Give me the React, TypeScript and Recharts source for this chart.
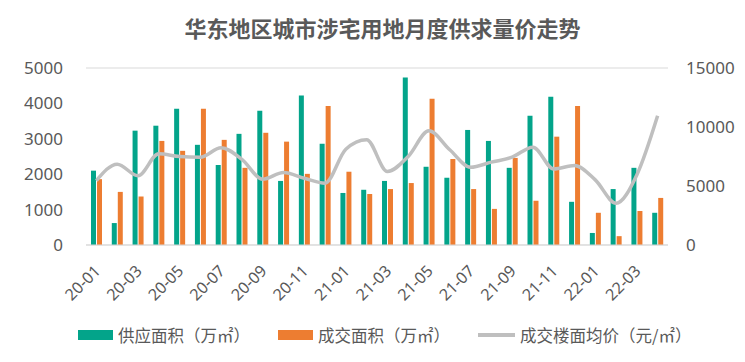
import React from 'react';
import { ComposedChart, Bar, Line, XAxis, YAxis, CartesianGrid } from 'recharts';

const months = [
  '20-01', '20-02', '20-03', '20-04', '20-05', '20-06', '20-07', '20-08', '20-09', '20-10',
  '20-11', '20-12', '21-01', '21-02', '21-03', '21-04', '21-05', '21-06', '21-07', '21-08',
  '21-09', '21-10', '21-11', '21-12', '22-01', '22-02', '22-03', '22-04',
];

const supply = [
  2100, 620, 3230, 3370, 3850, 2830, 2260, 3140, 3790, 1810,
  4220, 2860, 1470, 1560, 1810, 4730, 2210, 1900, 3250, 2940,
  2180, 3650, 4190, 1220, 340, 1580, 2180, 910,
];

const deals = [
  1860, 1500, 1370, 2940, 2660, 3850, 2970, 2180, 3170, 2920,
  2010, 3930, 2070, 1440, 1580, 1750, 4130, 2430, 1580, 1020,
  2460, 1250, 3060, 3930, 910, 250, 960, 1330,
];

const avgPrice = [
  5460, 6850, 5860, 7730, 7500, 7440, 8240, 7250, 5575, 6140,
  5660, 5240, 8120, 8920, 6230, 7500, 9680, 8070, 6590, 7020,
  7440, 8290, 6450, 6740, 5520, 3540, 5940, 10950,
];

const leftTicks = [0, 1000, 2000, 3000, 4000, 5000];
const rightTicks = [0, 5000, 10000, 15000];

const data = months.map((m, i) => ({
  month: m,
  supply: supply[i],
  deals: deals[i],
  price: avgPrice[i],
}));

const GREEN = '#03A48A';
const ORANGE = '#ED7D31';
const GREY = '#BFBFBF';
const TEXT = '#595959';
const FONT = '"Noto Sans CJK SC", "Noto Sans", sans-serif';
const NUM_FONT = '"Noto Sans", "Open Sans", sans-serif';

const MonthTick = (props: any) => {
  const { x, y, payload } = props;
  return (
    <g transform={`translate(${x + 1},${y + 23})`}>
      <text
        transform="rotate(-45)"
        textAnchor="end"
        dy="0.35em"
        fontSize={16}
        fill={TEXT}
        fontFamily={NUM_FONT}
      >
        {payload.value}
      </text>
    </g>
  );
};

const legendItems = [
  { label: '供应面积（万㎡）', color: GREEN, kind: 'bar', left: 78 },
  { label: '成交面积（万㎡）', color: ORANGE, kind: 'bar', left: 278 },
  { label: '成交楼面均价（元/㎡）', color: GREY, kind: 'line', left: 478 },
];

export default function App() {
  return (
    <div
      style={{
        position: 'absolute',
        left: 0,
        top: 0,
        width: 745,
        height: 362,
        background: '#fff',
        fontFamily: FONT,
      }}
    >
      <div
        style={{
          position: 'absolute',
          top: 11,
          left: 0,
          width: 765,
          textAlign: 'center',
          fontSize: 22,
          fontWeight: 'bold',
          color: TEXT,
        }}
      >
        华东地区城市涉宅用地月度供求量价走势
      </div>
      <ComposedChart
        width={745}
        height={362}
        data={data}
        margin={{ top: 68, right: 0, bottom: 0, left: 0 }}
        barSize={5}
        barGap={1}
      >
        <CartesianGrid vertical={false} stroke="#D9D9D9" />
        <XAxis
          dataKey="month"
          interval={1}
          height={117}
          tickLine={false}
          tickSize={0}
          tickMargin={0}
          axisLine={{ stroke: '#D9D9D9' }}
          tick={<MonthTick />}
        />
        <YAxis
          yAxisId="left"
          width={86}
          domain={[0, 5000]}
          ticks={leftTicks}
          axisLine={false}
          tickLine={false}
          tickSize={6}
          tickMargin={17}
          tick={{ fill: TEXT, fontSize: 17, fontFamily: NUM_FONT }}
        />
        <YAxis
          yAxisId="right"
          orientation="right"
          width={77}
          domain={[0, 15000]}
          ticks={rightTicks}
          axisLine={false}
          tickLine={false}
          tickSize={6}
          tickMargin={12}
          tick={{ fill: TEXT, fontSize: 17, fontFamily: NUM_FONT, textAnchor: 'start' }}
        />
        <Bar yAxisId="left" dataKey="supply" fill={GREEN} isAnimationActive={false} />
        <Bar yAxisId="left" dataKey="deals" fill={ORANGE} isAnimationActive={false} />
        <Line
          yAxisId="right"
          type="monotone"
          dataKey="price"
          stroke={GREY}
          strokeWidth={3.5}
          dot={false}
          activeDot={false}
          isAnimationActive={false}
        />
      </ComposedChart>
      {legendItems.map((item) => (
        <div
          key={item.label}
          style={{
            position: 'absolute',
            left: item.left,
            top: 324,
            height: 22,
            display: 'flex',
            alignItems: 'center',
            fontSize: 16.5,
            color: TEXT,
            whiteSpace: 'nowrap',
          }}
        >
          <span
            style={{
              display: 'inline-block',
              width: item.kind === 'bar' ? 35 : 37,
              height: item.kind === 'bar' ? 10 : 4,
              background: item.color,
              marginRight: 5,
            }}
          />
          {item.label}
        </div>
      ))}
    </div>
  );
}
